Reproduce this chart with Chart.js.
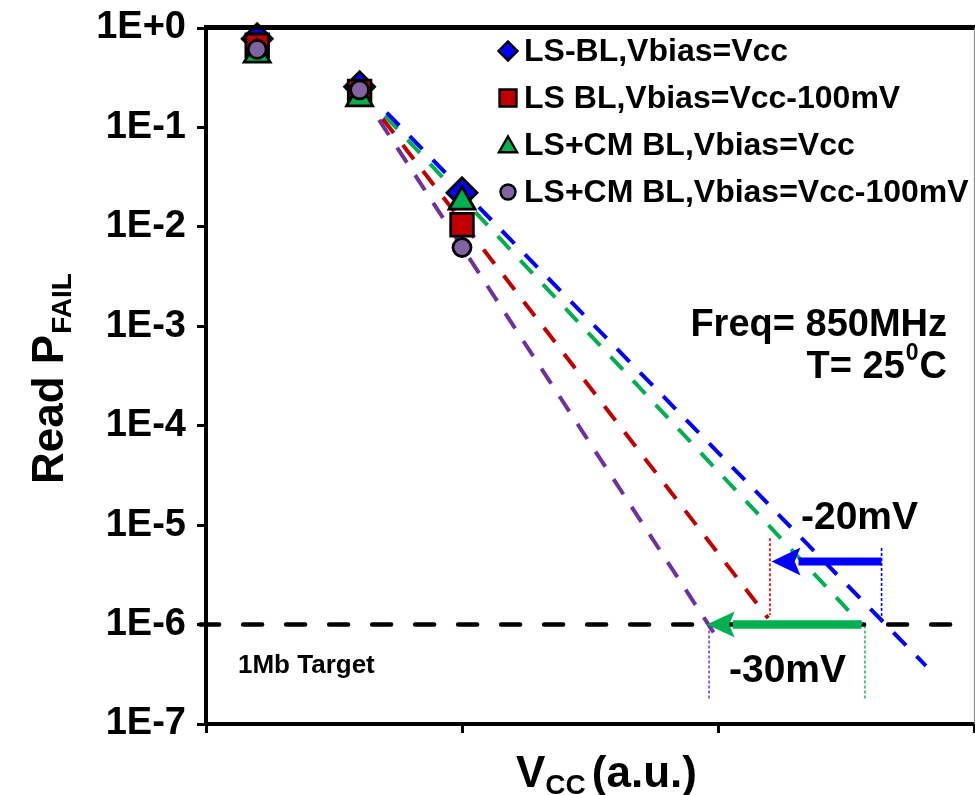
<!DOCTYPE html>
<html><head><meta charset="utf-8">
<script src="https://cdn.jsdelivr.net/npm/chart.js@4.4.1/dist/chart.umd.min.js"></script>
<style>html,body{margin:0;padding:0;background:#fff}#wrap{width:975px;height:795px}</style>
</head><body><div id="wrap"><canvas id="c" width="975" height="795"></canvas></div>
<script>
const FONT = '"Liberation Sans", Arial, Helvetica, sans-serif';

// Read fail probability vs Vcc, four bit-line bias schemes
const vccPoints   = [0.2, 0.6, 1.0];
const lsBlVcc     = [0.78, 0.256, 0.022];
const lsBlVcc100  = [0.67, 0.23, 0.0105];
const lsCmVcc     = [0.54, 0.196, 0.0179];
const lsCmVcc100  = [0.61, 0.239, 0.0062];
const seriesNames = ['LS-BL,Vbias=Vcc', 'LS BL,Vbias=Vcc-100mV', 'LS+CM BL,Vbias=Vcc', 'LS+CM BL,Vbias=Vcc-100mV'];

// Extrapolated trend lines (start, end)
const trendBlueX   = [0.706, 2.8125], trendBlueY   = [0.141, 3.84e-7];
const trendRedX    = [0.690, 2.196],  trendRedY    = [0.122, 1.16e-6];
const trendGreenX  = [0.699, 2.561],  trendGreenY  = [0.131, 1.0e-6];
const trendPurpleX = [0.676, 2.0145], trendPurpleY = [0.119, 6.24e-7];

// 1Mb target level
const targetLevel = 1e-6;
const targetX = [-0.023, 2.945];

// Vcc gain arrows (from, to) and their levels
const arrow20X = [2.639, 2.209], arrow20Y = 4.3e-6;
const arrow30X = [2.561, 1.956], arrow30Y = 1e-6;

// Drop lines marking the crossings: x, yTop, yBottom
const dropRed    = [2.203, 7.4e-6, 1.25e-6];
const dropBlue   = [2.639, 5.9e-6, 1.07e-6];
const dropGreen  = [2.574, 0.98e-6, 1.75e-7];
const dropPurple = [1.965, 0.98e-6, 1.75e-7];

// Axis ticks
const yTickValues = [1, 1e-1, 1e-2, 1e-3, 1e-4, 1e-5, 1e-6, 1e-7];
const yTickLabels = ['1E+0', '1E-1', '1E-2', '1E-3', '1E-4', '1E-5', '1E-6', '1E-7'];
const xTickValues = [0, 1, 2, 3];

const BLUE = '#0000FF', RED = '#C00000', GREEN = '#00B050', PURPLE = '#7030A0';
const MARK_PURPLE = '#8064A2';

const pts = (xs, ys) => xs.map((x, i) => ({x, y: ys[i]}));

function trend(xs, ys, color) {
  return {type: 'line', data: pts(xs, ys), borderColor: color, borderWidth: 4,
    borderDash: [18, 15], pointRadius: 0, fill: false, order: 10, tension: 0};
}
function markers(ys, label, style, fill, radius, order) {
  return {type: 'scatter', label, data: pts(vccPoints, ys), pointStyle: style,
    pointRadius: radius, pointHoverRadius: radius, backgroundColor: fill,
    pointBackgroundColor: fill, borderColor: '#000', pointBorderColor: '#000',
    pointBorderWidth: 2.8, borderWidth: 2.8, order, clip: false};
}

const datasets = [
  {type: 'line', data: pts(targetX, [targetLevel, targetLevel]), borderColor: '#000', borderWidth: 4.5,
   borderDash: [19, 24], borderCapStyle: 'round', pointRadius: 0, order: 11, clip: false},
  trend(trendBlueX, trendBlueY, BLUE),
  trend(trendRedX, trendRedY, RED),
  trend(trendGreenX, trendGreenY, GREEN),
  trend(trendPurpleX, trendPurpleY, PURPLE),
  markers(lsBlVcc, seriesNames[0], 'rectRot', BLUE, 15, 4),
  markers(lsBlVcc100, seriesNames[1], 'rect', RED, 16, 3),
  markers(lsCmVcc, seriesNames[2], 'triangle', GREEN, 15, 2),
  markers(lsCmVcc100, seriesNames[3], 'circle', MARK_PURPLE, 9, 1)
];

function drawMarker(ctx, style, x, y, r, fill) {
  ctx.save();
  ctx.fillStyle = fill; ctx.strokeStyle = '#000'; ctx.lineWidth = 2.4; ctx.lineJoin = 'miter';
  ctx.beginPath();
  if (style === 'rectRot') {
    ctx.moveTo(x, y - r); ctx.lineTo(x + r, y); ctx.lineTo(x, y + r); ctx.lineTo(x - r, y); ctx.closePath();
  } else if (style === 'rect') {
    const s = r * Math.SQRT1_2; ctx.rect(x - s, y - s, 2 * s, 2 * s);
  } else if (style === 'triangle') {
    ctx.moveTo(x, y - r);
    ctx.lineTo(x + r * Math.sin(2 * Math.PI / 3), y - r * Math.cos(2 * Math.PI / 3));
    ctx.lineTo(x + r * Math.sin(4 * Math.PI / 3), y - r * Math.cos(4 * Math.PI / 3));
    ctx.closePath();
  } else {
    ctx.arc(x, y, r, 0, Math.PI * 2);
  }
  ctx.fill(); ctx.stroke();
  ctx.restore();
}

function arrow(ctx, x1, x2, y, color, shaft, headLen, headHalf) {
  ctx.save();
  ctx.fillStyle = color; ctx.strokeStyle = color;
  ctx.lineWidth = shaft; ctx.lineCap = 'butt';
  ctx.beginPath(); ctx.moveTo(x1, y); ctx.lineTo(x2 + headLen - 2, y); ctx.stroke();
  ctx.beginPath();
  ctx.moveTo(x2, y); ctx.lineTo(x2 + headLen, y - headHalf); ctx.lineTo(x2 + headLen * 0.8, y);
  ctx.lineTo(x2 + headLen, y + headHalf); ctx.closePath(); ctx.fill();
  ctx.restore();
}

function dropLine(ctx, xs, ys, d, color) {
  const x = xs.getPixelForValue(d[0]);
  ctx.save();
  ctx.strokeStyle = color; ctx.lineWidth = 1.6; ctx.setLineDash([3, 2]);
  ctx.beginPath(); ctx.moveTo(x, ys.getPixelForValue(d[1])); ctx.lineTo(x, ys.getPixelForValue(d[2])); ctx.stroke();
  ctx.restore();
}

const decorations = {
  id: 'decorations',
  beforeDatasetsDraw(chart) {
    const {ctx, scales: {x: xs, y: ys}} = chart;
    dropLine(ctx, xs, ys, dropRed, '#E00000');
    dropLine(ctx, xs, ys, dropBlue, BLUE);
    dropLine(ctx, xs, ys, dropGreen, '#22C060');
    dropLine(ctx, xs, ys, dropPurple, '#8040C0');
  },
  afterDatasetsDraw(chart) {
    const {ctx, scales: {x: xs, y: ys}} = chart;
    arrow(ctx, xs.getPixelForValue(arrow20X[0]), xs.getPixelForValue(arrow20X[1]), ys.getPixelForValue(arrow20Y), BLUE, 8, 29, 14);
    arrow(ctx, xs.getPixelForValue(arrow30X[0]), xs.getPixelForValue(arrow30X[1]), ys.getPixelForValue(arrow30Y), GREEN, 8.5, 28, 13);
  },
  afterDraw(chart) {
    const {ctx, chartArea: a} = chart;
    ctx.save();
    // frame: heavy top edge, light right edge
    ctx.strokeStyle = '#000'; ctx.lineWidth = 5;
    ctx.beginPath(); ctx.moveTo(a.left - 2, a.top - 0.5); ctx.lineTo(975, a.top - 0.5); ctx.stroke();
    ctx.strokeStyle = '#8a8a8a'; ctx.lineWidth = 1.2;
    ctx.beginPath(); ctx.moveTo(a.right + 0.5, a.top); ctx.lineTo(a.right + 0.5, a.bottom); ctx.stroke();

    ctx.fillStyle = '#000';

    // legend
    const legendRows = [51, 98, 145, 192];
    const legendStyles = [['rectRot', BLUE, 9.5], ['rect', RED, 12], ['triangle', GREEN, 10.5], ['circle', MARK_PURPLE, 7.5]];
    ctx.font = 'bold 32px ' + FONT; ctx.textAlign = 'left'; ctx.textBaseline = 'middle';
    legendRows.forEach((y, i) => {
      const [st, col, r] = legendStyles[i];
      drawMarker(ctx, st, 508, st === 'triangle' ? y + 2 : y, r, col);
      ctx.fillStyle = '#000';
      ctx.fillText(seriesNames[i], 524, y + 1);
    });

    ctx.textBaseline = 'alphabetic';
    // conditions
    ctx.font = 'bold 38px ' + FONT; ctx.textAlign = 'right';
    ctx.fillText('Freq= 850MHz', 947, 336);
    const tRight = 947;
    const wC = ctx.measureText('C').width;
    ctx.fillText('C', tRight, 378);
    ctx.font = 'bold 23px ' + FONT;
    const w0 = ctx.measureText('0').width;
    ctx.fillText('0', tRight - wC - 1, 360);
    ctx.font = 'bold 38px ' + FONT;
    ctx.fillText('T= 25', tRight - wC - w0 - 2, 378);

    // annotations
    ctx.textAlign = 'left';
    ctx.font = 'bold 39px ' + FONT;
    ctx.fillText('-20mV', 801, 529);
    ctx.fillText('-30mV', 729, 682);
    ctx.font = 'bold 26px ' + FONT;
    ctx.fillText('1Mb Target', 238, 673);

    // y title with subscript
    ctx.save();
    ctx.translate(63, 484); ctx.rotate(-Math.PI / 2);
    ctx.font = 'bold 44px ' + FONT; ctx.textAlign = 'left';
    ctx.fillText('Read P', 0, 0);
    const wr = ctx.measureText('Read P').width;
    ctx.font = 'bold 28px ' + FONT;
    ctx.fillText('FAIL', wr + 1, 8);
    ctx.restore();

    // x title with subscript
    ctx.font = 'bold 44px ' + FONT; ctx.textAlign = 'left';
    let xx = 516;
    ctx.fillText('V', xx, 787); xx += ctx.measureText('V').width;
    ctx.font = 'bold 28px ' + FONT;
    ctx.fillText('CC', xx, 794); xx += ctx.measureText('CC').width + 6;
    ctx.font = 'bold 44px ' + FONT;
    ctx.fillText('(a.u.)', xx, 787);
    ctx.restore();
  }
};

new Chart(document.getElementById('c'), {
  data: {datasets},
  options: {
    responsive: false, animation: false, devicePixelRatio: 1,
    layout: {autoPadding: false, padding: {left: 0, right: 1, top: 28, bottom: 0}},
    plugins: {legend: {display: false}, tooltip: {enabled: false}},
    scales: {
      x: {
        type: 'linear', min: 0, max: 3,
        afterBuildTicks: s => { s.ticks = xTickValues.map(v => ({value: v})); },
        afterFit: s => { s.height = 71; s.paddingLeft = 0; s.paddingRight = 0; },
        ticks: {display: false},
        grid: {drawOnChartArea: false, drawTicks: true, tickLength: 9, tickColor: '#000', tickWidth: 3},
        border: {display: true, color: '#000', width: 4}
      },
      y: {
        type: 'logarithmic', min: 1e-7, max: 1,
        afterBuildTicks: s => { s.ticks = [...yTickValues].reverse().map(v => ({value: v, major: true})); },
        afterFit: s => { s.width = 206; s.paddingTop = 0; s.paddingBottom = 0; },
        ticks: {
          autoSkip: false, padding: 11, color: '#000',
          font: {family: FONT, size: 38, weight: 'bold'},
          callback: v => {
            const i = yTickValues.findIndex(t => Math.abs(Math.log10(t) - Math.log10(v)) < 1e-6);
            return i >= 0 ? yTickLabels[i] : '';
          }
        },
        grid: {drawOnChartArea: false, drawTicks: true, tickLength: 9, tickColor: '#000', tickWidth: 3},
        border: {display: true, color: '#000', width: 4}
      }
    }
  },
  plugins: [decorations]
});
</script>
</body></html>
